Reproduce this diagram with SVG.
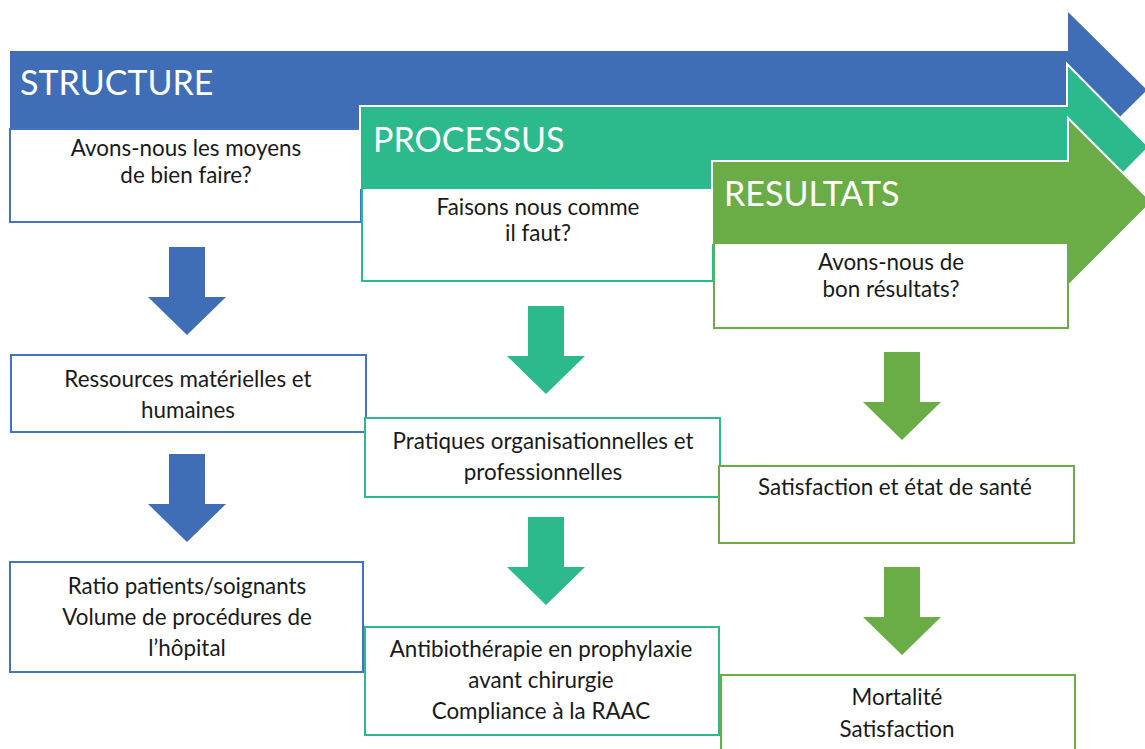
<svg xmlns="http://www.w3.org/2000/svg" xmlns:xlink="http://www.w3.org/1999/xlink" width="1145" height="749" viewBox="0 0 1145 749">
<style>
.t{font-family:Lato,"Noto Sans",sans-serif;font-size:22.4px;fill:#1a1a1a;text-anchor:middle}
.h{font-family:Lato,"Noto Sans",sans-serif;font-size:34px;fill:#ffffff}
.bb{fill:#ffffff;stroke:#4472C4;stroke-width:2}
.tb{fill:#ffffff;stroke:#2CB98B;stroke-width:2}
.gb{fill:#ffffff;stroke:#6AAC46;stroke-width:2}
</style>
<defs>
<path id="down" d="M-18,0 H18 V50 H39 L0,88 L-39,50 H-18 Z"/>
</defs>
<rect width="1145" height="749" fill="#ffffff"/>
<g id="structure">
<path d="M10,51 H1068 V12 L1147,90 L1068,168 V129 H10 Z" fill="#3F6DB6"/>
<rect class="bb" x="10" y="129" width="351" height="93"/>
<text class="h" x="20" y="95">STRUCTURE</text>
<text class="t" x="186" y="156">Avons-nous les moyens</text>
<text class="t" x="186" y="183">de bien faire?</text>
</g>
<g id="processus">
<path d="M360,106 H1067 V64 L1149,147 L1067,230 V188 H360 Z" fill="#2CB98B" stroke="#ffffff" stroke-width="2"/>
<rect class="tb" x="362" y="188" width="351" height="93"/>
<text class="h" x="373" y="152">PROCESSUS</text>
<text class="t" x="538" y="215">Faisons nous comme</text>
<text class="t" x="538" y="241">il faut?</text>
</g>
<g id="resultats">
<path d="M712,161 H1068 V118 L1152,202 L1068,286 V243 H712 Z" fill="#6AAC46" stroke="#ffffff" stroke-width="2"/>
<rect class="gb" x="714" y="243" width="354" height="85"/>
<text class="h" x="724" y="206">RESULTATS</text>
<text class="t" x="891" y="270">Avons-nous de</text>
<text class="t" x="891" y="297">bon résultats?</text>
</g>
<g id="ressources">
<rect class="bb" x="11" y="355" width="355" height="77"/>
<text class="t" x="188" y="387">Ressources matérielles et</text>
<text class="t" x="188" y="418">humaines</text>
</g>
<g id="ratio">
<rect class="bb" x="10" y="562" width="353" height="110"/>
<text class="t" x="187" y="594">Ratio patients/soignants</text>
<text class="t" x="187" y="625">Volume de procédures de</text>
<text class="t" x="187" y="656">l’hôpital</text>
</g>
<g id="pratiques">
<rect class="tb" x="365" y="418" width="355" height="79"/>
<text class="t" x="543" y="449">Pratiques organisationnelles et</text>
<text class="t" x="543" y="480">professionnelles</text>
</g>
<g id="antibio">
<rect class="tb" x="365" y="627" width="354" height="108"/>
<text class="t" x="541" y="657">Antibiothérapie en prophylaxie</text>
<text class="t" x="541" y="688">avant chirurgie</text>
<text class="t" x="541" y="719">Compliance à la RAAC</text>
</g>
<g id="satisfaction">
<rect class="gb" x="719" y="466" width="355" height="77"/>
<text class="t" x="895" y="495">Satisfaction et état de santé</text>
</g>
<g id="mortalite">
<rect class="gb" x="721" y="675" width="354" height="90"/>
<text class="t" x="897" y="705">Mortalité</text>
<text class="t" x="897" y="737">Satisfaction</text>
</g>
<g id="connectors">
<use xlink:href="#down" transform="translate(187,247)" fill="#3F6DB6"/>
<use xlink:href="#down" transform="translate(187,454)" fill="#3F6DB6"/>
<use xlink:href="#down" transform="translate(546,306)" fill="#2CB98B"/>
<use xlink:href="#down" transform="translate(546,517)" fill="#2CB98B"/>
<use xlink:href="#down" transform="translate(902,352)" fill="#6AAC46"/>
<use xlink:href="#down" transform="translate(902,567)" fill="#6AAC46"/>
</g>
</svg>
